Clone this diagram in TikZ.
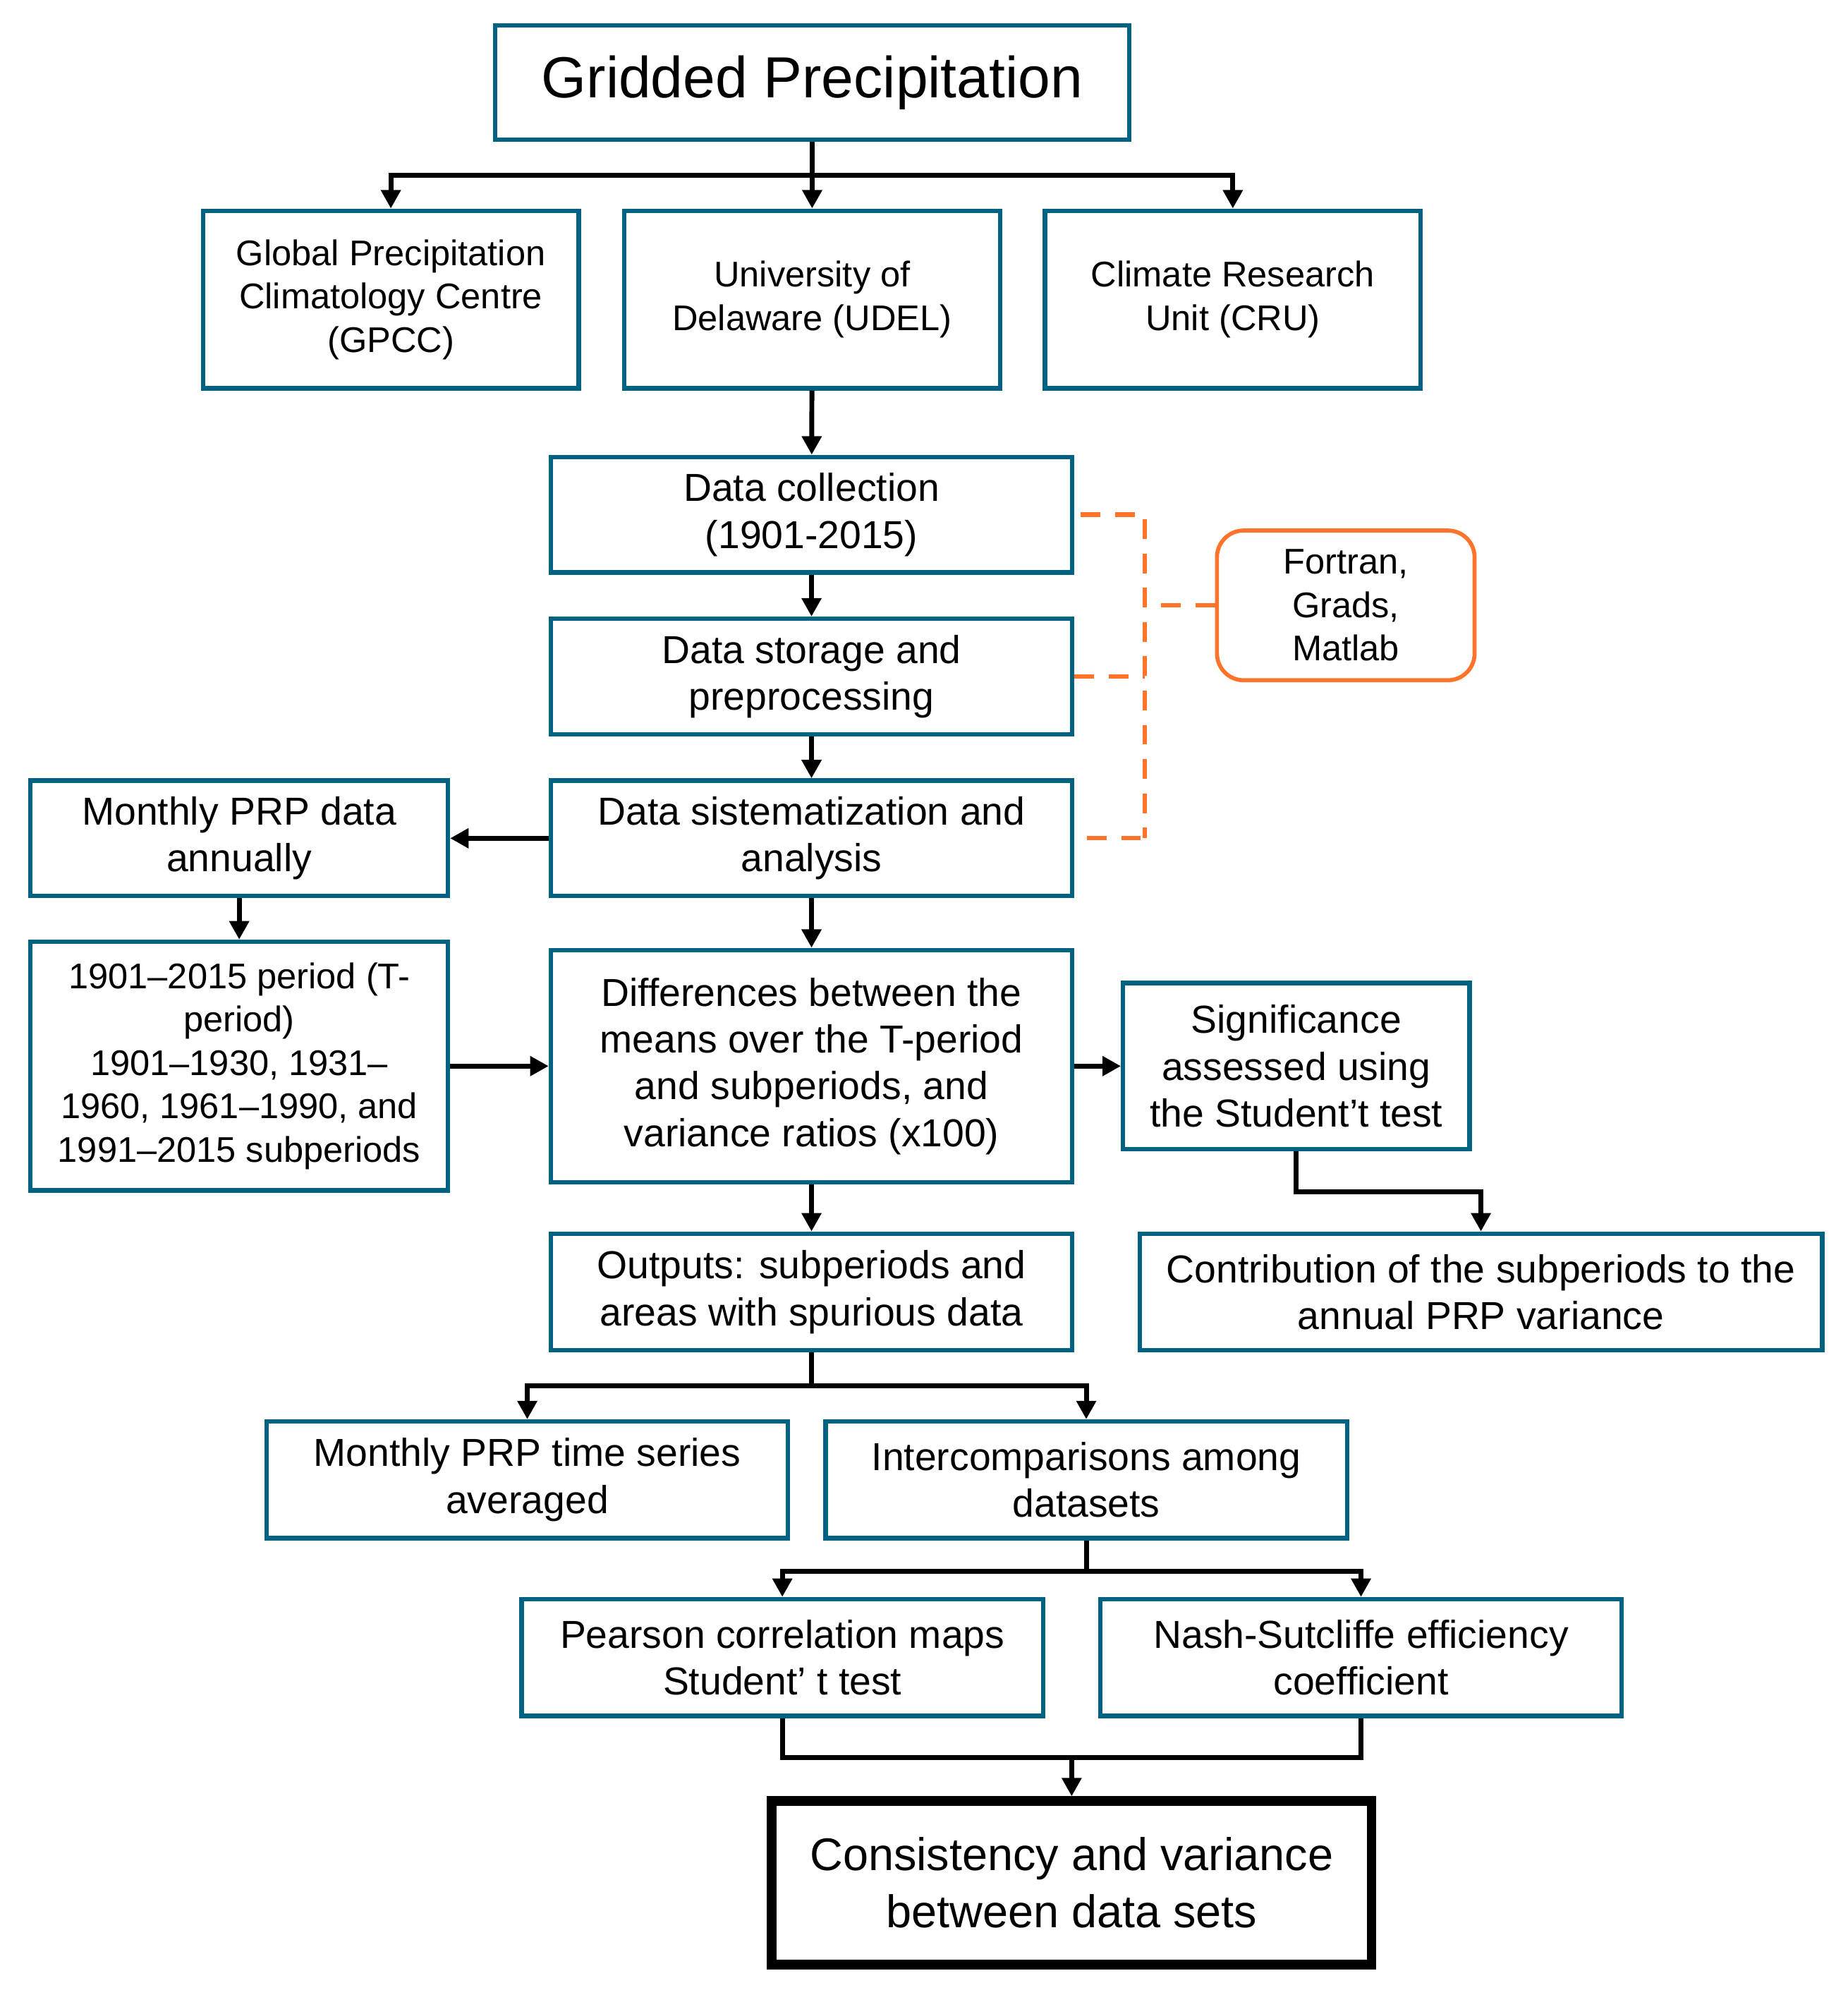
\documentclass[tikz,border=0pt]{standalone}
\usepackage{fontspec}
\setmainfont{Liberation Sans}
\usetikzlibrary{arrows.meta,positioning,calc}
\definecolor{boxBlue}{RGB}{0,98,130}
\definecolor{toolOrange}{RGB}{255,115,42}

\begin{document}
\begin{tikzpicture}[x=0.02cm,y=-0.02cm,
    box/.style={draw=boxBlue,line width=2pt,fill=white,align=center,inner sep=2pt,
      font=\fontsize{17.5}{21}\selectfont},
    srcbox/.style={box,font=\fontsize{16}{19.5}\selectfont,minimum width=5.92cm,minimum height=2.8cm},
    stepbox/.style={box,minimum width=8.22cm,minimum height=1.82cm},
    toolbox/.style={draw=toolOrange,line width=1.8pt,rounded corners=0.42cm,align=center,
      font=\fontsize{16}{19.5}\selectfont,minimum width=4.06cm,minimum height=2.36cm},
    arr/.style={-{Triangle[length=2.9mm,width=3mm]},line width=2.2pt},
    link/.style={line width=2.2pt},
    tool/.style={draw=toolOrange,line width=2pt,dash pattern=on 0.31cm off 0.23cm}]
  \useasboundingbox (0,0) rectangle (1456,1568);

  % sources
  \node[box,font=\fontsize{26}{31}\selectfont,minimum width=10cm,minimum height=1.8cm] (grid) at (640,65) {Gridded Precipitation};
  \node[srcbox] (gpcc) at (308,236) {Global Precipitation\\Climatology Centre\\(GPCC)};
  \node[srcbox] (udel) at (640,236) {University of\\Delaware (UDEL)};
  \node[srcbox] (cru) at (971.5,236) {Climate Research\\Unit (CRU)};
  \coordinate (srcbar) at (640,138);
  \draw[arr] (grid.south) -- (udel.north);
  \draw[arr] (srcbar) -| (gpcc.north);
  \draw[arr] (srcbar) -| (cru.north);

  % processing chain
  \node[stepbox] (dcol) at (639.5,405.5) {Data collection\\(1901-2015)};
  \node[stepbox] (dsto) at (639.5,533) {Data storage and\\preprocessing};
  \node[stepbox] (dsis) at (639.5,660.5) {Data sistematization and\\analysis};
  \node[toolbox] (fort) at (1060.5,477) {Fortran,\\Grads,\\Matlab};
  \draw[arr] (udel) -- (dcol);
  \draw[arr] (dcol) -- (dsto);
  \draw[arr] (dsto) -- (dsis);

  \coordinate (brk1) at (902,405.5);
  \coordinate (brk2) at (902,660.5);
  \draw[tool] ([xshift=0.1cm]dcol.east) -- (brk1) -- (brk2);
  \draw[tool] ([xshift=0.2cm]dsis.east) -- ([xshift=-0.07cm]brk2);
  \draw[tool] (dsto.east) -- (dsto.east -| brk1);
  \draw[tool] (fort.west) -- (fort.west -| brk1);

  % periods
  \node[box,minimum width=6.58cm,minimum height=1.82cm] (mon) at (188.5,660.5) {Monthly PRP data\\annually};
  \node[box,font=\fontsize{16}{19.5}\selectfont,minimum width=6.58cm,minimum height=3.92cm] (per) at (188.5,840)
    {1901–2015 period (T-\\period)\\1901–1930, 1931–\\1960, 1961–1990, and\\1991–2015 subperiods};
  \node[box,minimum width=8.22cm,minimum height=3.66cm] (diff) at (639.5,840)
    {Differences between the\\means over the T-period\\and subperiods, and\\variance ratios (x100)};
  \node[box,minimum width=5.46cm,minimum height=2.62cm] (sig) at (1021.5,840)
    {Significance\\assessed using\\the Student’t test};
  \node[box,minimum width=10.76cm,minimum height=1.84cm] (contr) at (1167,1018)
    {Contribution of the subperiods to the\\annual PRP variance};
  \draw[arr] (dsis.west) -- (mon.east);
  \draw[arr] (mon) -- (per);
  \draw[arr] (per) -- (diff);
  \draw[arr] (dsis) -- (diff);
  \draw[arr] (diff) -- (sig);
  \draw[arr] (sig.south) -- ++(0,32) -| (contr.north);

  % outputs
  \node[stepbox,minimum height=1.84cm] (out) at (639.5,1018) {Outputs: subperiods and\\areas with spurious data};
  \node[stepbox,minimum height=1.84cm] (mts) at (415.5,1166) {Monthly PRP time series\\averaged};
  \node[stepbox,minimum height=1.84cm] (inter) at (856,1166) {Intercomparisons among\\datasets};
  \draw[arr] (diff) -- (out);
  \coordinate (outbar) at (639.5,1092);
  \draw[link] (out.south) -- (outbar);
  \draw[arr] (outbar) -| (mts.north);
  \draw[arr] (outbar) -| (inter.north);

  \node[stepbox,minimum height=1.84cm] (pear) at (616.5,1306) {Pearson correlation maps\\Student’ t test};
  \node[stepbox,minimum height=1.84cm] (nash) at (1072.5,1306) {Nash-Sutcliffe efficiency\\coefficient};
  \coordinate (interbar) at (856,1238);
  \draw[link] (inter.south) -- (interbar);
  \draw[arr] (interbar) -| (pear.north);
  \draw[arr] (interbar) -| (nash.north);

  \node[draw,line width=4.2pt,align=center,font=\fontsize{20.5}{25.5}\selectfont,
    minimum width=9.46cm,minimum height=2.58cm] (cons) at (844.5,1483.5)
    {Consistency and variance\\between data sets};
  \coordinate (join) at (844.5,1385);
  \draw[link] (pear.south) |- (join) -| (nash.south);
  \draw[arr] (join) -- (cons.north);
\end{tikzpicture}
\end{document}
